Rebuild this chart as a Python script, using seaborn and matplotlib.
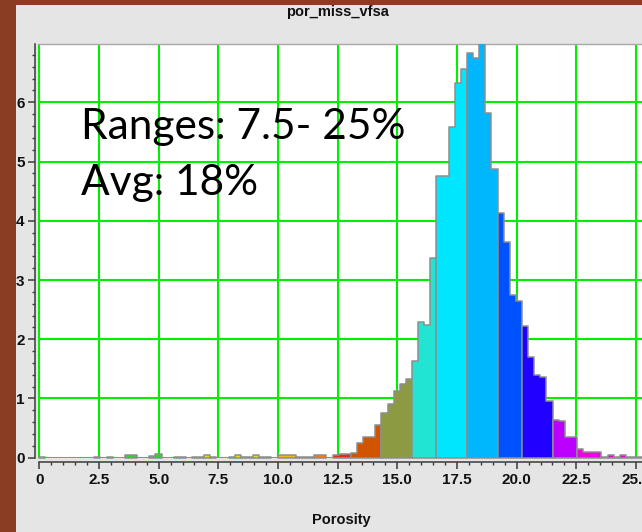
import numpy as np
import pandas as pd
import matplotlib
matplotlib.use("Agg")
import matplotlib.pyplot as plt
from matplotlib.patches import Rectangle
from matplotlib.ticker import MultipleLocator
import seaborn as sns

# Histogram of porosity (bins of equal width starting at 0)
bin_width = 0.256
porosity_counts = [
    0.005, 0, 0, 0, 0, 0, 0, 0, 0, 0.005,             # 0-9
    0, 0.005, 0, 0, 0.05, 0.05, 0, 0, 0.03, 0.07,      # 10-19
    0, 0, 0.005, 0.005, 0, 0.005, 0.005, 0.05, 0.005, 0,  # 20-29
    0, 0.005, 0.05, 0.005, 0.005, 0.05, 0.005, 0.005, 0, 0.05,  # 30-39
    0.05, 0.05, 0.005, 0.005, 0.005, 0.05, 0.05, 0, 0.05, 0.06,  # 40-49
    0.065, 0.075, 0.25, 0.355, 0.355, 0.56, 0.75, 0.91, 1.13, 1.245,  # 50-59
    1.335, 1.633, 2.287, 2.24, 3.38, 4.75, 4.75, 5.58, 6.33, 6.56,  # 60-69
    6.83, 6.75, 7.0, 5.82, 4.87, 4.14, 3.64, 2.75, 2.65, 2.225,  # 70-79
    1.706, 1.397, 1.358, 0.963, 0.637, 0.62, 0.355, 0.355, 0.14, 0.10,  # 80-89
    0.10, 0.10, 0.005, 0.05, 0.005, 0.05, 0.005, 0.005, 0.005,  # 90-98
]

# Colour class of each bin
bin_classes = (
    ["trace"] * 14 + ["green"] * 6 + ["trace"] * 7 + ["yellow"] + ["trace"] * 4
    + ["yellow"] + ["trace"] * 2 + ["yellow"] + ["trace"] * 3 + ["gold"] * 3
    + ["trace"] * 3 + ["orange"] * 2 + ["trace"] + ["red"] * 3 + ["rust"] * 5
    + ["olive"] * 5 + ["turquoise"] * 4 + ["cyan"] * 5 + ["sky"] * 5
    + ["blue"] * 4 + ["indigo"] * 5 + ["purple"] * 4 + ["magenta"] * 4
    + ["trace", "magenta", "trace", "magenta", "trace", "trace", "trace"]
)

class_colors = {
    "trace": "#c8c8c8",
    "green": "#2fd02f",
    "yellow": "#e8dc10",
    "gold": "#f0b418",
    "orange": "#f07a20",
    "red": "#e82a1c",
    "rust": "#d25400",
    "olive": "#8c9a42",
    "turquoise": "#22e4d2",
    "cyan": "#00e6ff",
    "sky": "#00b6fc",
    "blue": "#0052ff",
    "indigo": "#2000ff",
    "purple": "#bb00ff",
    "magenta": "#f000e6",
}

x_ticks = [0, 2.5, 5.0, 7.5, 10.0, 12.5, 15.0, 17.5, 20.0, 22.5, 25.0]
x_tick_labels = ["0", "2.5", "5.0", "7.5", "10.0", "12.5", "15.0",
                 "17.5", "20.0", "22.5", "25.0"]
y_ticks = [0, 1, 2, 3, 4, 5, 6]
y_tick_labels = ["0", "1", "2", "3", "4", "5", "6"]

title_text = "por_miss_vfsa"
x_label = "Porosity"
note_lines = ["Ranges: 7.5- 25%", "Avg: 18%"]

W, H = 642, 532
counts = np.array(porosity_counts, dtype=float)
edges = np.arange(len(counts) + 1) * bin_width
centers = edges[:-1] + bin_width / 2
hist_df = pd.DataFrame({"porosity": centers, "count": counts, "cls": bin_classes})

fig = plt.figure(figsize=(W / 100, H / 100), dpi=100)
fig.patch.set_facecolor("#8a3d22")
fig.add_artist(Rectangle((16 / W, 0), 1, (H - 5) / H, transform=fig.transFigure,
                         facecolor="#e5e5e5", edgecolor="none", zorder=0))

ax = fig.add_axes([38 / W, (H - 458) / H, (W - 38) / W, (458 - 44.3) / H])
ax.set_facecolor("white")

# Split bins into contiguous runs of the same colour class, one outlined fill per run
runs = []
i = 0
n = len(counts)
while i < n:
    if counts[i] <= 0:
        i += 1
        continue
    j = i
    while j + 1 < n and counts[j + 1] > 0 and bin_classes[j + 1] == bin_classes[i]:
        j += 1
    runs.append((i, j + 1, bin_classes[i]))
    i = j + 1

for a, b, cls in runs:
    sub = hist_df.iloc[a:b]
    sns.histplot(data=sub, x="porosity", weights="count",
                 bins=[float(e) for e in edges[a:b + 1]],
                 element="step", fill=True, color=class_colors[cls],
                 edgecolor="#8e8e8e", linewidth=1.1, alpha=1, ax=ax, zorder=3)

ax.set_xlim(-0.054, 25.25)
ax.set_ylim(-0.005, 6.98)

ax.set_xticks(x_ticks)
ax.set_xticklabels(x_tick_labels)
ax.set_yticks(y_ticks)
ax.set_yticklabels(y_tick_labels)
ax.xaxis.set_minor_locator(MultipleLocator(0.5))
ax.yaxis.set_minor_locator(MultipleLocator(0.2))

ax.set_axisbelow(True)
ax.grid(True, which="major", color="#00f000", linewidth=1.5)
ax.yaxis.get_gridlines()[0].set_visible(False)

ax.spines["right"].set_visible(False)
ax.spines["top"].set_color("#a8a8a8")
ax.spines["top"].set_linewidth(1.0)
ax.spines["left"].set_position(("outward", 2.2))
ax.spines["bottom"].set_position(("outward", 3.0))
for s in ("left", "bottom"):
    ax.spines[s].set_color("#3a3a3a")
    ax.spines[s].set_linewidth(1.1)
ax.spines["bottom"].set_bounds(0, 25.25)

ax.tick_params(which="major", length=5, width=1.1, color="#3a3a3a", pad=2.5)
ax.tick_params(which="minor", length=2.5, width=1.0, color="#3a3a3a")
for lab in ax.get_xticklabels() + ax.get_yticklabels():
    lab.set_fontfamily("Liberation Sans")
    lab.set_fontweight("bold")
    lab.set_fontsize(11)
    lab.set_color("#111111")

ax.set_xlabel("")
ax.set_ylabel("")
fig.text(341.7 / W, 1 - 520 / H, x_label, ha="center", va="center",
         fontfamily="Liberation Sans", fontweight="bold", fontsize=10.5, color="#111111")
fig.text(337.5 / W, 1 - 12 / H, title_text, ha="center", va="center",
         fontfamily="Liberation Sans", fontweight="bold", fontsize=10.5, color="#111111")

fig.text(81 / W, 1 - 139.3 / H, note_lines[0], ha="left", va="baseline",
         fontfamily="Lato", fontsize=30.5, color="black")
fig.text(81 / W, 1 - 195.5 / H, note_lines[1], ha="left", va="baseline",
         fontfamily="Lato", fontsize=30.5, color="black")

fig.savefig("out.png", dpi=100, facecolor=fig.get_facecolor())
